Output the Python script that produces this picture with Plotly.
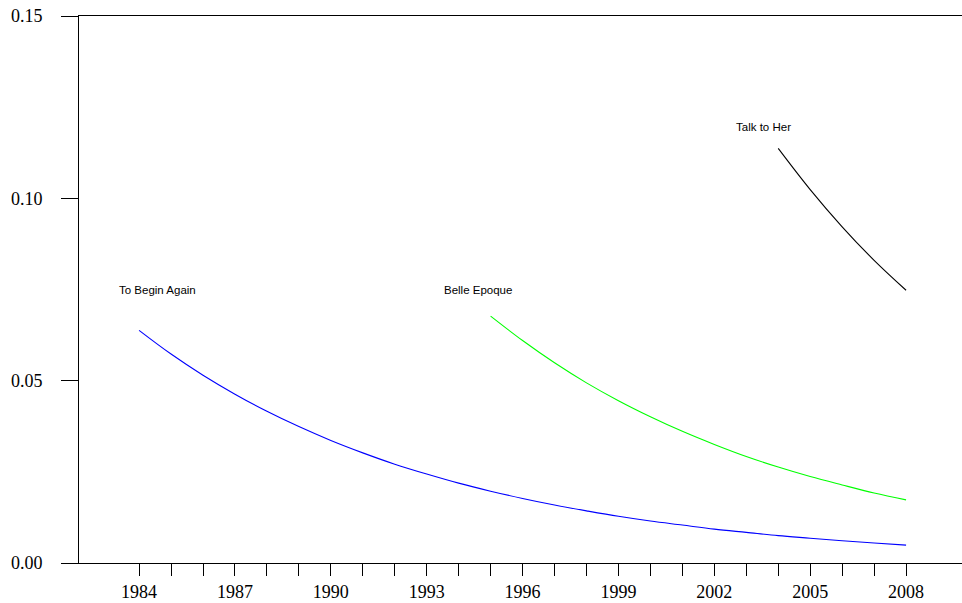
import plotly.graph_objects as go

# Data
years_blue = list(range(1984, 2009))
blue = [0.0638, 0.0573, 0.0515, 0.0463, 0.0416, 0.0374, 0.0336, 0.0302, 0.0271,
        0.0244, 0.0219, 0.0197, 0.0177, 0.0159, 0.0143, 0.0128, 0.0115, 0.0104,
        0.0093, 0.0084, 0.0075, 0.0068, 0.0061, 0.0055, 0.0049]
years_green = list(range(1995, 2009))
green = [0.0677, 0.0610, 0.0549, 0.0494, 0.0445, 0.0401, 0.0361, 0.0325, 0.0292,
         0.0263, 0.0237, 0.0214, 0.0192, 0.0173]
years_black = list(range(2004, 2009))
black = [0.1137, 0.1024, 0.0922, 0.0830, 0.0748]
names = ["To Begin Again", "Belle Epoque", "Talk to Her"]
x_ticks = list(range(1984, 2009))
x_ticktext = [str(y) if (y - 1984) % 3 == 0 else "" for y in x_ticks]
y_ticks = [0.0, 0.05, 0.10, 0.15]
y_ticktext = ["0.00", "0.05", "0.10", "0.15"]

fig = go.Figure()
for xs, ys, col, nm in [(years_blue, blue, "#0000ff", names[0]),
                        (years_green, green, "#00ff00", names[1]),
                        (years_black, black, "#000000", names[2])]:
    fig.add_trace(go.Scatter(x=xs, y=ys, mode="lines", name=nm,
                             line=dict(color=col, width=1.1, shape="spline"),
                             showlegend=False, hoverinfo="skip"))

label_pos = [(1983.31, 0.0748), (1993.48, 0.0748), (2002.62, 0.1195)]
for nm, (lx, ly) in zip(names, label_pos):
    fig.add_annotation(x=lx, y=ly, text=nm, showarrow=False, xanchor="left",
                       yanchor="middle",
                       font=dict(family="Liberation Sans", size=11.5, color="black"))

fig.update_layout(
    width=962, height=603,
    margin=dict(l=79, r=0, t=16, b=40),
    paper_bgcolor="white", plot_bgcolor="white",
    font=dict(family="Liberation Serif", size=18, color="black"),
)
fig.update_xaxes(range=[1982.12, 2009.75], showgrid=False, zeroline=False,
                 showline=True, mirror=True, linecolor="black", linewidth=1,
                 ticks="outside", ticklen=12, tickcolor="black", tickwidth=1,
                 tickvals=x_ticks, ticktext=x_ticktext, tickangle=0)
fig.update_yaxes(range=[0, 0.15], showgrid=False, zeroline=False,
                 showline=True, linecolor="black", linewidth=1,
                 ticks="outside", ticklen=17, tickcolor="black", tickwidth=1,
                 tickvals=y_ticks, ticktext=y_ticktext, ticklabelstandoff=15)

fig.write_html("out.html", config={"displayModeBar": False},
               post_script="document.body.style.margin='0';document.body.style.overflow='hidden';")
